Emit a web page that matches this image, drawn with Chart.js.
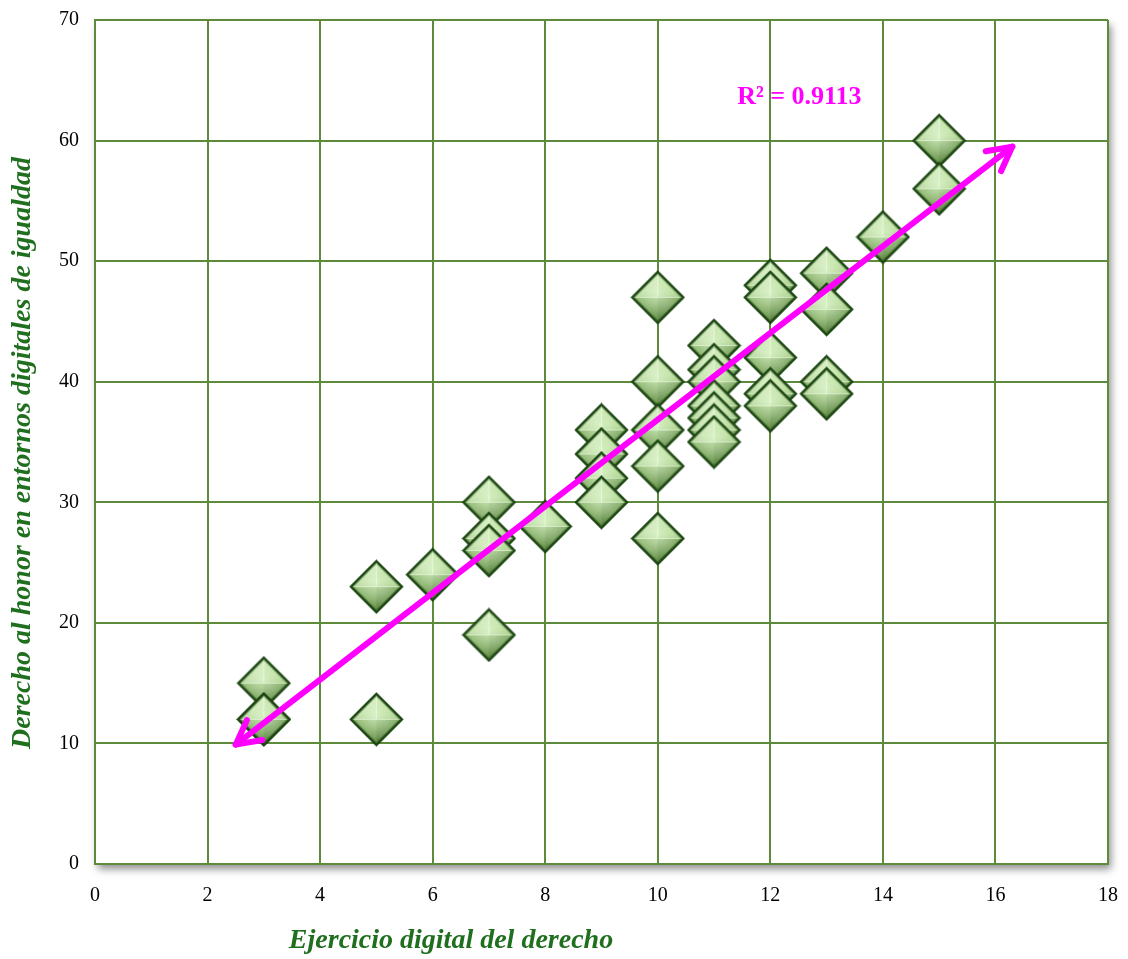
<!DOCTYPE html>
<html>
<head>
<meta charset="utf-8">
<script src="https://cdn.jsdelivr.net/npm/chart.js@4.4.1/dist/chart.umd.min.js"></script>
<style>
html,body{margin:0;padding:0;background:#fff;}
#c{display:block;}
</style>
</head>
<body>
<canvas id="c" width="1128" height="959"></canvas>
<script>
// ---- data ----
const xValues = [3,3,3,5,5,6,7,7,7,7,8,9,9,9,9,10,10,10,10,10,11,11,11,11,11,11,11,12,12,12,12,12,13,13,13,13,14,15,15];
const yValues = [15,12,12,23,12,24,30,27,26,19,28,36,34,32,30,47,40,36,33,27,43,41,40,38,37,36,35,48,47,42,39,38,49,46,40,39,52,60,56];
const trendX = [2.5, 16.3];
const trendY = [9.9, 59.5];
const rSquaredLabel = 'R² = 0.9113';
const xTicks = [0,2,4,6,8,10,12,14,16,18];
const yTicks = [0,10,20,30,40,50,60,70];
const xTitle = 'Ejercicio digital del derecho';
const yTitle = 'Derecho al honor en entornos digitales de igualdad';

const points = xValues.map((x, i) => ({x: x, y: yValues[i]}));
const trend = trendX.map((x, i) => ({x: x, y: trendY[i]}));

// ---- beveled diamond marker ----
function makeDiamond(r) {
  const s = Math.ceil(2 * r + 4);
  const cv = document.createElement('canvas');
  cv.width = s; cv.height = s;
  const g = cv.getContext('2d');
  const c = s / 2;
  const T = [c, c - r], R = [c + r, c], B = [c, c + r], L = [c - r, c];
  function path(k) {
    g.beginPath();
    g.moveTo(c, c - r * k); g.lineTo(c + r * k, c); g.lineTo(c, c + r * k); g.lineTo(c - r * k, c); g.closePath();
  }
  const grad = g.createLinearGradient(0, c - r, 0, c + r);
  grad.addColorStop(0, '#d2efb8');
  grad.addColorStop(0.4, '#b1d792');
  grad.addColorStop(1, '#6b954c');
  path(1); g.fillStyle = grad; g.fill();
  function tri(a, b, col) {
    g.beginPath(); g.moveTo(c, c); g.lineTo(...a); g.lineTo(...b); g.closePath();
    g.fillStyle = col; g.fill();
  }
  tri(L, T, 'rgba(255,255,255,0.25)');
  tri(T, R, 'rgba(255,255,255,0.10)');
  tri(R, B, 'rgba(0,40,0,0.16)');
  tri(B, L, 'rgba(0,40,0,0.07)');
  const rg = g.createRadialGradient(c, c - r * 0.2, 0, c, c, r * 0.8);
  rg.addColorStop(0, 'rgba(235,255,220,0.55)');
  rg.addColorStop(1, 'rgba(235,255,220,0)');
  path(1); g.fillStyle = rg; g.fill();
  g.strokeStyle = 'rgba(240,255,230,0.6)';
  g.lineWidth = 1.2;
  g.beginPath(); g.moveTo(c, c); g.lineTo(...T); g.moveTo(c, c); g.lineTo(...L); g.moveTo(c, c); g.lineTo(...R); g.stroke();
  path(0.93); g.strokeStyle = 'rgba(40,80,25,0.35)'; g.lineWidth = 2; g.stroke();
  path(1); g.strokeStyle = '#1c4612'; g.lineWidth = 2.4; g.stroke();
  return cv;
}
const diamond = makeDiamond(25.5);

// ---- plugins ----
const shadowPlugin = {
  id: 'areaShadow',
  beforeDraw(chart) {
    const {ctx, chartArea: a} = chart;
    ctx.save();
    ctx.shadowColor = 'rgba(0,0,0,0.45)';
    ctx.shadowBlur = 8;
    ctx.shadowOffsetX = 3;
    ctx.shadowOffsetY = 5;
    ctx.fillStyle = '#ffffff';
    ctx.fillRect(a.left, a.top, a.right - a.left, a.bottom - a.top);
    ctx.restore();
  }
};

const decoPlugin = {
  id: 'deco',
  afterDatasetsDraw(chart) {
    const ctx = chart.ctx;
    const meta = chart.getDatasetMeta(1);
    const p0 = meta.data[0], p1 = meta.data[meta.data.length - 1];
    ctx.save();
    ctx.strokeStyle = '#ff00ff';
    ctx.lineWidth = 6;
    ctx.lineCap = 'round';
    ctx.lineJoin = 'round';
    function arrow(tip, from) {
      const ang = Math.atan2(tip.y - from.y, tip.x - from.x);
      const len = 27, spread = Math.PI / 6.5;
      ctx.beginPath();
      ctx.moveTo(tip.x - len * Math.cos(ang - spread), tip.y - len * Math.sin(ang - spread));
      ctx.lineTo(tip.x, tip.y);
      ctx.lineTo(tip.x - len * Math.cos(ang + spread), tip.y - len * Math.sin(ang + spread));
      ctx.stroke();
    }
    arrow(p0, p1);
    arrow(p1, p0);
    const xs = chart.scales.x, ys = chart.scales.y;
    ctx.fillStyle = '#ff00ff';
    ctx.font = 'bold 26px "Liberation Serif", "Times New Roman", serif';
    ctx.textAlign = 'left';
    ctx.textBaseline = 'middle';
    ctx.fillText(rSquaredLabel, xs.getPixelForValue(11.41), ys.getPixelForValue(63.55));
    ctx.restore();
  },
  afterDraw(chart) {
    const ctx = chart.ctx;
    ctx.save();
    ctx.fillStyle = '#1f6f1f';
    ctx.font = 'italic bold 28px "Liberation Serif", "Times New Roman", serif';
    ctx.textAlign = 'center';
    ctx.textBaseline = 'middle';
    ctx.fillText(xTitle, 451, 941);
    ctx.translate(23, 453);
    ctx.rotate(-Math.PI / 2);
    ctx.fillText(yTitle, 0, 0);
    ctx.restore();
  }
};

const gridColor = '#5e8b3b';
const tickFont = {family: '"Liberation Serif", "Times New Roman", serif', size: 20};

new Chart(document.getElementById('c'), {
  type: 'scatter',
  data: {
    datasets: [
      {
        label: 'data',
        data: points,
        pointStyle: diamond,
        pointRadius: 26,
        pointHoverRadius: 26,
        order: 2
      },
      {
        label: 'trend',
        type: 'line',
        data: trend,
        showLine: true,
        borderColor: '#ff00ff',
        borderWidth: 6,
        borderCapStyle: 'round',
        pointRadius: 0,
        fill: false,
        order: 1
      }
    ]
  },
  options: {
    responsive: false,
    animation: false,
    events: [],
    layout: {autoPadding: false, padding: {top: 20, right: 20, left: 0, bottom: 0}},
    plugins: {legend: {display: false}, tooltip: {enabled: false}},
    scales: {
      x: {
        type: 'linear',
        min: 0, max: 18,
        afterBuildTicks(s) { s.ticks = xTicks.map(v => ({value: v})); },
        afterFit(s) { s.height = 95; s.paddingLeft = 0; s.paddingRight = 0; },
        grid: {color: gridColor, lineWidth: 2, drawTicks: false},
        border: {color: gridColor, width: 2},
        ticks: {color: '#000', font: tickFont, padding: 20, maxRotation: 0}
      },
      y: {
        type: 'linear',
        min: 0, max: 70,
        afterBuildTicks(s) { s.ticks = yTicks.map(v => ({value: v})); },
        afterFit(s) { s.width = 95; s.paddingTop = 0; s.paddingBottom = 0; },
        grid: {color: gridColor, lineWidth: 2, drawTicks: false},
        border: {color: gridColor, width: 2},
        ticks: {color: '#000', font: tickFont, padding: 16}
      }
    }
  },
  plugins: [shadowPlugin, decoPlugin]
});
</script>
</body>
</html>
